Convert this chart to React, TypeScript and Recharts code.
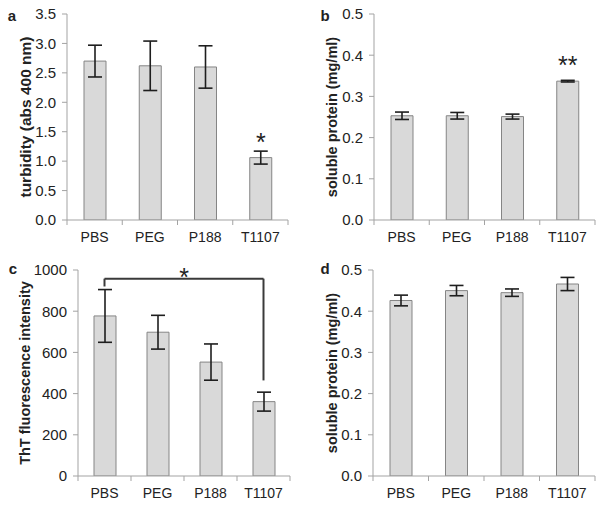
import React from 'react';
import {
  BarChart,
  Bar,
  XAxis,
  YAxis,
  ErrorBar,
  LabelList,
  ReferenceLine,
} from 'recharts';

// treatment groups (shared by all four panels)
const groups = ['PBS', 'PEG', 'P188', 'T1107'];

// a: turbidity (abs 400 nm)
const turbidity = [2.7, 2.62, 2.6, 1.06];
const turbidityErr = [0.27, 0.42, 0.36, 0.11];
const turbiditySig = ['', '', '', '*'];
const turbidityTicks = [0, 0.5, 1, 1.5, 2, 2.5, 3, 3.5];

// b: soluble protein
const proteinB = [0.253, 0.253, 0.251, 0.337];
const proteinBErr = [0.009, 0.008, 0.006, 0.002];
const proteinBSig = ['', '', '', '**'];

// c: ThT fluorescence
const tht = [777, 698, 553, 361];
const thtErr = [128, 82, 88, 46];
const thtTicks = [0, 200, 400, 600, 800, 1000];
const thtBracket = { from: 'PBS', to: 'T1107', top: 958, leftEnd: 920, rightEnd: 464 };

// d: soluble protein
const proteinD = [0.426, 0.45, 0.445, 0.466];
const proteinDErr = [0.013, 0.0125, 0.009, 0.016];

const proteinTicks = [0, 0.1, 0.2, 0.3, 0.4, 0.5];

const FONT = '"Liberation Sans", Arial, sans-serif';
const AXIS = '#a3a3a3';
const TEXT = '#222';

const build = (vals: number[], errs: number[], sig?: string[]) =>
  groups.map((g, i) => ({ group: g, value: vals[i], err: errs[i], sig: sig ? sig[i] : '' }));

function makeTick(band: number) {
  return (props: any) => {
    const { x, y, payload, index } = props;
    return (
      <g>
        <line x1={x - band / 2} x2={x - band / 2} y1={y - 5} y2={y} stroke={AXIS} />
        {index === groups.length - 1 && (
          <line x1={x + band / 2} x2={x + band / 2} y1={y - 5} y2={y} stroke={AXIS} />
        )}
        <text x={x} y={y + 17} textAnchor="middle" fontSize={14} fill={TEXT} fontFamily={FONT}>
          {payload.value}
        </text>
      </g>
    );
  };
}

function yLabel(text: string, x: number, size: number) {
  return (props: any) => {
    const vb = props.viewBox;
    const cy = vb.y + vb.height / 2;
    return (
      <text
        x={x}
        y={cy}
        transform={`rotate(-90 ${x} ${cy})`}
        textAnchor="middle"
        dominantBaseline="central"
        fontSize={size}
        fontWeight="bold"
        fill={TEXT}
        fontFamily={FONT}
      >
        {text}
      </text>
    );
  };
}

const starLabel = (props: any) => {
  const { x, y, width, value } = props;
  if (!value) return null;
  return (
    <text x={x + width / 2} y={y - 7} textAnchor="middle" fontSize={25} fill={TEXT} fontFamily={FONT}>
      {value}
    </text>
  );
};

interface PanelProps {
  letter: string;
  left: number;
  top: number;
  width: number;
  margin: { top: number; right: number; bottom: number; left: number };
  data: any[];
  domain: [number, number];
  ticks: number[];
  digits: number;
  label: string;
  labelX: number;
  labelSize: number;
  letterX: number;
  letterY: number;
  children?: React.ReactNode;
}

function Panel(p: PanelProps) {
  const plotWidth = p.width - p.margin.left - p.margin.right - 40;
  const band = plotWidth / groups.length;
  return (
    <div style={{ position: 'absolute', left: p.left, top: p.top, width: p.width, height: 253 }}>
      <BarChart width={p.width} height={253} data={p.data} margin={p.margin} barSize={22}>
        <XAxis
          dataKey="group"
          height={30}
          axisLine={{ stroke: AXIS }}
          tickLine={false}
          tickSize={5}
          tickMargin={0}
          interval={0}
          tick={makeTick(band)}
        />
        <YAxis
          width={40}
          domain={p.domain}
          ticks={p.ticks}
          interval={0}
          allowDataOverflow
          tickFormatter={(v: number) => v.toFixed(p.digits)}
          axisLine={{ stroke: AXIS }}
          tickLine={{ stroke: AXIS }}
          tickSize={5}
          tickMargin={6}
          tick={{ fontSize: 15, fill: TEXT, fontFamily: FONT }}
          label={{ content: yLabel(p.label, p.labelX, p.labelSize) }}
        />
        <Bar dataKey="value" fill="#d9d9d9" stroke="#858585" strokeWidth={1} isAnimationActive={false}>
          <ErrorBar dataKey="err" width={7} stroke="#1e1e1e" strokeWidth={1.6} />
          <LabelList dataKey="sig" content={starLabel} />
        </Bar>
        {p.children}
      </BarChart>
      <div
        style={{
          position: 'absolute',
          left: p.letterX,
          top: p.letterY,
          fontFamily: FONT,
          fontWeight: 'bold',
          fontSize: 15,
          color: TEXT,
          lineHeight: '15px',
          transform: 'translate(-50%, -50%)',
        }}
      >
        {p.letter}
      </div>
    </div>
  );
}

const bracketStar = (props: any) => {
  const vb = props.viewBox;
  return (
    <text x={vb.x + vb.width / 2} y={vb.y + 7} textAnchor="middle" fontSize={25} fill={TEXT} fontFamily={FONT}>
      *
    </text>
  );
};

export default function App() {
  const bracket = '#3a3a3a';
  return (
    <div style={{ position: 'absolute', left: 0, top: 0, width: 604, height: 506, background: '#fff' }}>
      <Panel
        letter="a"
        left={0}
        top={0}
        width={300}
        margin={{ top: 14, right: 12, bottom: 3, left: 27 }}
        data={build(turbidity, turbidityErr, turbiditySig)}
        domain={[0, 3.5]}
        ticks={turbidityTicks}
        digits={1}
        label="turbidity (abs 400 nm)"
        labelX={25}
        labelSize={15.5}
        letterX={12}
        letterY={15}
      />
      <Panel
        letter="b"
        left={300}
        top={0}
        width={304}
        margin={{ top: 14, right: 9, bottom: 3, left: 34 }}
        data={build(proteinB, proteinBErr, proteinBSig)}
        domain={[0, 0.5]}
        ticks={proteinTicks}
        digits={1}
        label="soluble protein (mg/ml)"
        labelX={32}
        labelSize={14.5}
        letterX={25}
        letterY={15}
      />
      <Panel
        letter="c"
        left={0}
        top={253}
        width={300}
        margin={{ top: 17, right: 10, bottom: 0, left: 38 }}
        data={build(tht, thtErr)}
        domain={[0, 1000]}
        ticks={thtTicks}
        digits={0}
        label="ThT fluorescence intensity"
        labelX={25}
        labelSize={14.5}
        letterX={13}
        letterY={15}
      >
        <ReferenceLine
          segment={[
            { x: thtBracket.from, y: thtBracket.top },
            { x: thtBracket.to, y: thtBracket.top },
          ]}
          stroke={bracket}
          strokeWidth={2}
          label={{ content: bracketStar }}
        />
        <ReferenceLine
          segment={[
            { x: thtBracket.from, y: thtBracket.top },
            { x: thtBracket.from, y: thtBracket.leftEnd },
          ]}
          stroke={bracket}
          strokeWidth={2}
        />
        <ReferenceLine
          segment={[
            { x: thtBracket.to, y: thtBracket.top },
            { x: thtBracket.to, y: thtBracket.rightEnd },
          ]}
          stroke={bracket}
          strokeWidth={2}
        />
      </Panel>
      <Panel
        letter="d"
        left={300}
        top={253}
        width={304}
        margin={{ top: 17, right: 9, bottom: 0, left: 33 }}
        data={build(proteinD, proteinDErr)}
        domain={[0, 0.5]}
        ticks={proteinTicks}
        digits={1}
        label="soluble protein (mg/ml)"
        labelX={32}
        labelSize={14.5}
        letterX={25}
        letterY={15}
      />
    </div>
  );
}
